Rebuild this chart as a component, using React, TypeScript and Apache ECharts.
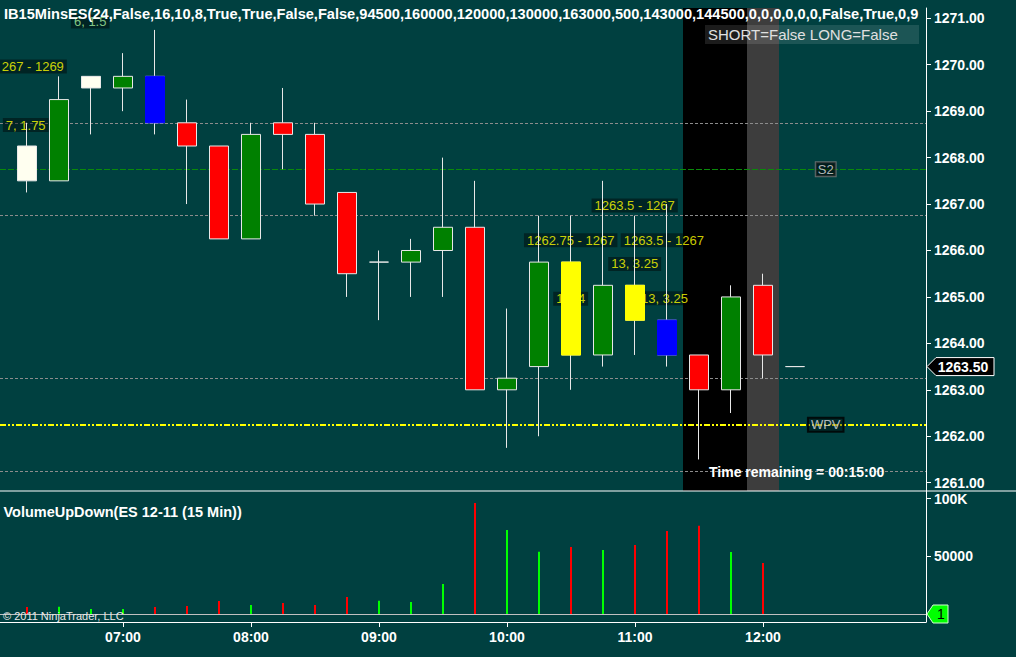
import { useEffect, useRef } from "react";
import * as echarts from "echarts";

// ---------- data ----------
const times = ["06:15","06:30","06:45","07:00","07:15","07:30","07:45","08:00","08:15","08:30","08:45","09:00","09:15","09:30","09:45","10:00","10:15","10:30","10:45","11:00","11:15","11:30","11:45","12:00","12:15"];
const opens  = [1268.25,1267.5,1269.5,1269.5,1269.75,1268.75,1268.25,1266.25,1268.75,1268.5,1267.25,1265.75,1265.75,1266,1266.5,1263,1263.5,1265.75,1263.75,1265.25,1264.5,1263.75,1263,1265.25,1263.5];
const closes = [1267.5,1269.25,1269.75,1269.75,1268.75,1268.25,1266.25,1268.5,1268.5,1267,1265.5,1265.75,1266,1266.5,1263,1263.25,1265.75,1263.75,1265.25,1264.5,1263.75,1263,1265,1263.75,1263.5];
const lows   = [1267.25,1267.5,1268.5,1269,1268.5,1267,1266.25,1266.25,1267.75,1266.75,1265,1264.5,1265,1265,1263,1261.75,1262,1263,1263.5,1263.75,1263.5,1261.5,1262.5,1263.25,1263.5];
const highs  = [1268.75,1269.75,1269.75,1270.25,1270.75,1269.25,1268.25,1268.75,1269.5,1268.75,1267.25,1266,1266.25,1268,1267.5,1264.75,1266.75,1266.75,1267.5,1266.75,1267,1263.75,1265.25,1265.5,1263.5];
const barKinds = ["ivory","up","ivory","up","blue","down","down","up","down","down","down","up","up","up","down","up","up","yellow","up","yellow","blue","down","up","down","up"];
const volumes = [6100,6300,4300,4300,6000,6900,11200,7800,9500,7800,14700,11500,10400,26000,96200,72800,54000,58100,55500,59800,71900,76500,53700,44200,1];
const volumeDirs = ["down","up","up","up","down","down","down","up","down","down","down","up","up","up","down","up","up","down","up","down","down","down","up","down","up"];

const timeTicks = ["07:00","08:00","09:00","10:00","11:00","12:00"];
const priceTicks = [1261,1262,1263,1264,1265,1266,1267,1268,1269,1270,1271];
const volumeTicks = [50000, 100000];

const refLevels = [1268.75, 1266.75, 1263.25, 1261.25];
const s2Level = 1267.75;
const wpvLevel = 1262.25;
const darkSession = ["11:30", "11:45"];
const graySession = ["12:00"];

const noteTexts = ["267 - 1269","7, 1.75","6, 1.5","1262.75 - 1267","1263.5 - 1267","1263.5 - 1267","13, 3.25","12, 4","13, 3.25"];
const noteBars  = [0.18,-0.04,1.975,16.99,18.99,19.9,18.99,16.99,19.92];
const notePrices= [1269.96,1268.70,1270.93,1266.22,1266.97,1266.22,1265.71,1264.96,1264.97];

const titleText = "IB15MinsES(24,False,16,10,8,True,True,False,False,94500,160000,120000,130000,163000,500,143000,144500,0,0,0,0,0,0,False,True,0,9";

// ---------- styles ----------
const BG = "#004040";
const FONT = "'Liberation Sans', Arial, sans-serif";
const kindColor: Record<string, string> = {
  up: "#008000", down: "#FF0000", blue: "#0000FF", yellow: "#FFFF00", ivory: "#FFFFF0",
};
const WICK = "#E8E8E8";

const X_MIN = -0.84375, X_MAX = 28.09375;
const P_MIN = 1260.821, P_MAX = 1271.222;
const V_MIN = -6930, V_MAX = 106585;

export default function App() {
  const ref = useRef<HTMLDivElement>(null);

  useEffect(() => {
    document.body.style.margin = "0";
    document.body.style.background = BG;
    const chart = echarts.init(ref.current!, null, { renderer: "svg" });
    const idx = (t: string) => times.indexOf(t);

    const candleData = times.map((_, i) => {
      const c = kindColor[barKinds[i]];
      return {
        value: [i, opens[i], closes[i], lows[i], highs[i]],
        itemStyle: { color: c, color0: c, borderColor: WICK, borderColor0: WICK, borderColorDoji: WICK },
      };
    });
    const overlayData = times
      .map((_, i) => i)
      .filter((i) => barKinds[i] === "blue" || barKinds[i] === "yellow")
      .map((i) => {
        const c = kindColor[barKinds[i]];
        return {
          value: [i, opens[i], closes[i], Math.min(opens[i], closes[i]), Math.max(opens[i], closes[i])],
          itemStyle: { color: c, color0: c, borderColor: c, borderColor0: c, borderColorDoji: c },
        };
      });

    const labelBase = {
      show: true, position: "inside", fontSize: 13, fontFamily: FONT, lineHeight: 12,
      padding: [1, 3], backgroundColor: "rgba(0,0,0,0.55)",
    };
    const noteData: any[] = noteTexts.map((t, i) => ({
      value: [noteBars[i], notePrices[i]],
      label: { ...labelBase, formatter: t, color: t === "6, 1.5" ? "#A6F0A0" : "#FFFF00" },
    }));
    const tagX = times.length - 0.04;
    noteData.push({
      value: [tagX, s2Level],
      label: { ...labelBase, formatter: "S2", color: "#E0E0E0", backgroundColor: "rgba(0,0,0,0.7)", borderColor: "#7a7a7a", borderWidth: 1, padding: [1, 2] },
    });
    noteData.push({
      value: [tagX, wpvLevel],
      label: { ...labelBase, formatter: "WPV", color: "#E0E0E0", backgroundColor: "rgba(0,0,0,0.45)", borderColor: "#000000", borderWidth: 1, padding: [1, 3] },
    });

    const axisText = { color: "#FFFFFF", fontWeight: "bold", fontSize: 14, fontFamily: FONT };
    const tickIdx = timeTicks.map(idx);

    const option: any = {
      animation: false,
      backgroundColor: BG,
      tooltip: { show: false },
      grid: [
        { left: 0, right: 90, top: 8, height: 483 },
        { left: 0, right: 90, top: 491, height: 131 },
      ],
      xAxis: [
        { type: "value", gridIndex: 0, min: X_MIN, max: X_MAX, show: false },
        {
          type: "value", gridIndex: 1, min: X_MIN, max: X_MAX,
          axisLine: { show: true, onZero: false, lineStyle: { color: "#FFFFFF", width: 1 } },
          axisTick: { show: true, customValues: tickIdx, length: 5, lineStyle: { color: "#FFFFFF" } },
          axisLabel: { ...axisText, customValues: tickIdx, margin: 8, formatter: (v: number) => times[Math.round(v)] },
          splitLine: { show: false },
        },
      ],
      yAxis: [
        {
          type: "value", gridIndex: 0, position: "right", min: P_MIN, max: P_MAX,
          axisLine: { show: true, onZero: false, lineStyle: { color: "#FFFFFF" } },
          axisTick: { show: true, customValues: priceTicks, length: 5, lineStyle: { color: "#FFFFFF" } },
          axisLabel: { ...axisText, customValues: priceTicks, margin: 8, formatter: (v: number) => v.toFixed(2) },
          splitLine: { show: false },
        },
        {
          type: "value", gridIndex: 1, position: "right", min: V_MIN, max: V_MAX,
          axisLine: { show: true, onZero: false, lineStyle: { color: "#FFFFFF" } },
          axisTick: { show: true, customValues: volumeTicks, length: 5, lineStyle: { color: "#FFFFFF" } },
          axisLabel: { ...axisText, customValues: volumeTicks, margin: 8, formatter: (v: number) => (v >= 100000 ? v / 1000 + "K" : String(v)) },
          splitLine: { show: false },
        },
      ],
      series: [
        {
          type: "candlestick", xAxisIndex: 0, yAxisIndex: 0, z: 3, barWidth: 20,
          data: candleData,
          itemStyle: { borderWidth: 1 },
          markArea: {
            silent: true, z: 1,
            data: [
              [{ xAxis: idx(darkSession[0]) - 0.5, itemStyle: { color: "#000000" } }, { xAxis: idx(darkSession[darkSession.length - 1]) + 0.5 }],
              [{ xAxis: idx(graySession[0]) - 0.5, itemStyle: { color: "#3D3D3D" } }, { xAxis: idx(graySession[graySession.length - 1]) + 0.5 }],
            ],
          },
          markLine: {
            silent: true, z: 2, symbol: "none", label: { show: false },
            data: [
              ...refLevels.map((v) => ({ yAxis: v, lineStyle: { color: "#8C8C8C", width: 1, type: [3, 2] } })),
              { yAxis: s2Level, lineStyle: { color: "#0A8A0A", width: 1, type: [6, 2] } },
              { yAxis: wpvLevel, lineStyle: { color: "#FFFF00", width: 2, type: [6, 2, 2, 2, 2, 2] } },
            ],
          },
        },
        {
          type: "candlestick", xAxisIndex: 0, yAxisIndex: 0, z: 3.5, barWidth: 20,
          data: overlayData, itemStyle: { borderWidth: 1 },
        },
        {
          type: "scatter", xAxisIndex: 0, yAxisIndex: 0, z: 2.5, symbolSize: 1,
          itemStyle: { color: "rgba(0,0,0,0)" }, silent: true,
          data: noteData,
        },
        {
          type: "bar", xAxisIndex: 1, yAxisIndex: 1, z: 3, barWidth: 2,
          data: volumes.map((v, i) => ({ value: [i, v], itemStyle: { color: volumeDirs[i] === "up" ? "#00FF00" : "#FF0000" } })),
          markLine: {
            silent: true, z: 2, symbol: "none", label: { show: false },
            data: [{ yAxis: 0, lineStyle: { color: "#C0C0C0", width: 1, type: "solid" } }],
          },
        },
      ],
    };
    chart.setOption(option);

    const last = times.length - 1;
    const ax = chart.convertToPixel({ xAxisIndex: 0 }, X_MAX) as number;
    const py = chart.convertToPixel({ yAxisIndex: 0 }, closes[last]) as number;
    const vy = chart.convertToPixel({ yAxisIndex: 1 }, volumes[last]) as number;
    const lx = chart.convertToPixel({ xAxisIndex: 0 }, last) as number;
    const ly = chart.convertToPixel({ yAxisIndex: 0 }, P_MIN) as number;

    chart.setOption({
      graphic: [
        { type: "line", z: 10, shape: { x1: 0, y1: 491, x2: 1016, y2: 491 }, style: { stroke: "#FFFFFF", lineWidth: 1 } },
        {
          type: "text", z: 10, x: 4, y: 14,
          style: { text: titleText, fill: "#FFFFFF", font: `bold 14.6px ${FONT}`, verticalAlign: "middle" },
        },
        { type: "rect", z: 10, shape: { x: 705, y: 25, width: 214, height: 19 }, style: { fill: "rgba(255,255,255,0.11)" } },
        { type: "text", z: 11, x: 708, y: 34.5, style: { text: "SHORT=False LONG=False", fill: "#E0E0E0", font: `15px ${FONT}`, verticalAlign: "middle" } },
        { type: "text", z: 10, x: lx - 86, y: ly - 19, style: { text: "Time remaining = 00:15:00", fill: "#FFFFFF", font: `bold 14px ${FONT}`, verticalAlign: "middle" } },
        { type: "text", z: 10, x: 3.5, y: 511.5, style: { text: "VolumeUpDown(ES 12-11 (15 Min))", fill: "#FFFFFF", font: `bold 14.5px ${FONT}`, verticalAlign: "middle" } },
        { type: "text", z: 10, x: 3, y: 616, style: { text: "© 2011 NinjaTrader, LLC", fill: "#E8E8E8", font: `11px ${FONT}`, verticalAlign: "middle" } },
        {
          type: "polygon", z: 10,
          shape: { points: [[ax + 1, py], [ax + 10, py - 9], [ax + 68, py - 9], [ax + 68, py + 9], [ax + 10, py + 9]] },
          style: { fill: "#000000", stroke: "#FFFFFF", lineWidth: 1 },
        },
        { type: "text", z: 11, x: ax + 37, y: py, style: { text: closes[last].toFixed(2), fill: "#FFFFFF", font: `bold 14px ${FONT}`, align: "center", verticalAlign: "middle" } },
        {
          type: "polygon", z: 10,
          shape: { points: [[ax + 1, vy], [ax + 7, vy - 9], [ax + 22, vy - 9], [ax + 22, vy + 9], [ax + 7, vy + 9]] },
          style: { fill: "#00FF00", stroke: "#D0FFD0", lineWidth: 1 },
        },
        { type: "text", z: 11, x: ax + 15, y: vy, style: { text: String(volumes[last]), fill: "#000000", font: `14px ${FONT}`, align: "center", verticalAlign: "middle" } },
      ],
    });

    return () => chart.dispose();
  }, []);

  return <div ref={ref} style={{ width: 1016, height: 657 }} />;
}
